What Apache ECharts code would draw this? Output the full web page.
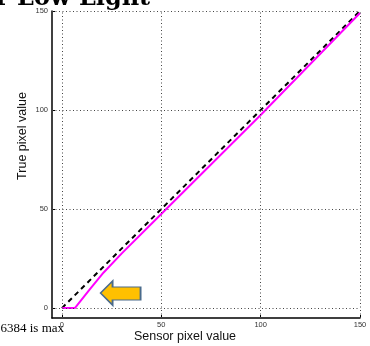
<!DOCTYPE html>
<html>
<head>
<meta charset="utf-8">
<script src="https://cdn.jsdelivr.net/npm/echarts@6/dist/echarts.min.js"></script>
<style>
  html, body { margin: 0; padding: 0; background: #fff; }
  #chart { width: 370px; height: 346px; }
</style>
</head>
<body>
<div id="chart"></div>
<script>
// values
const tickValues = [0, 50, 100, 150];
const identityLine = [[0, 0], [150, 150]];
const measured = [[0, 0], [6.5, 0], [14, 9.5], [21, 18], [30, 27.5], [50, 47.5], [100, 97.5], [150, 149]];
const arrowAt = [29.5, 7.6];

const chart = echarts.init(document.getElementById('chart'));

const gridDots = { color: '#444', width: 1, type: [1, 2.5] };
const labelStyle = { fontFamily: 'Liberation Sans', fontSize: 7.5, color: '#333' };

function axis(margin) {
    return {
        type: 'value',
        min: -5,
        max: 150,
        axisLine: { show: true, onZero: false, lineStyle: { color: '#000', width: 1.5 } },
        axisTick: { show: true, inside: true, length: 3, customValues: tickValues, lineStyle: { color: '#000' } },
        axisLabel: Object.assign({ customValues: tickValues, margin: margin }, labelStyle),
        splitLine: { show: false }
    };
}

chart.setOption({
    animation: false,
    grid: { left: 52, right: 10, top: 11, bottom: 28 },
    xAxis: axis(3),
    yAxis: axis(4),
    series: [
        {
            type: 'line',
            data: identityLine,
            symbol: 'none',
            lineStyle: { color: '#000', width: 2, type: [5, 4] },
            z: 3,
            markLine: {
                silent: true,
                symbol: 'none',
                label: { show: false },
                lineStyle: gridDots,
                data: tickValues.map(v => ({ xAxis: v })).concat(tickValues.map(v => ({ yAxis: v })))
            }
        },
        {
            type: 'line',
            data: measured,
            symbol: 'none',
            lineStyle: { color: '#ff00ff', width: 2 },
            z: 4,
            markPoint: {
                silent: true,
                symbol: 'path://M0,12 L12,0 L12,6 L40,6 L40,19 L12,19 L12,24 Z',
                symbolKeepAspect: false,
                symbolSize: [40, 24],
                itemStyle: { color: '#ffc000', borderColor: '#4a6b8c', borderWidth: 1.5 },
                label: { show: false },
                data: [{ coord: arrowAt }]
            }
        }
    ],
    graphic: [
        {
            type: 'text', left: 'center', top: 330,
            style: { text: 'Sensor pixel value', fontFamily: 'Liberation Sans', fontSize: 12.5, fill: '#111' }
        },
        {
            type: 'text', x: 23, y: 136, rotation: Math.PI / 2,
            style: { text: 'True pixel value', fontFamily: 'Liberation Sans', fontSize: 12.5, fill: '#111', align: 'center', verticalAlign: 'middle' }
        },
        {
            type: 'text', x: -6, y: 322,
            style: { text: '16384 is max', fontFamily: 'Liberation Serif', fontSize: 13, fill: '#000' }
        },
        {
            type: 'text', x: -4, y: -13,
            style: { text: 'r Low Light', fontFamily: 'DejaVu Serif', fontWeight: 'bold', fontSize: 24, fill: '#000' }
        }
    ]
});
</script>
</body>
</html>
